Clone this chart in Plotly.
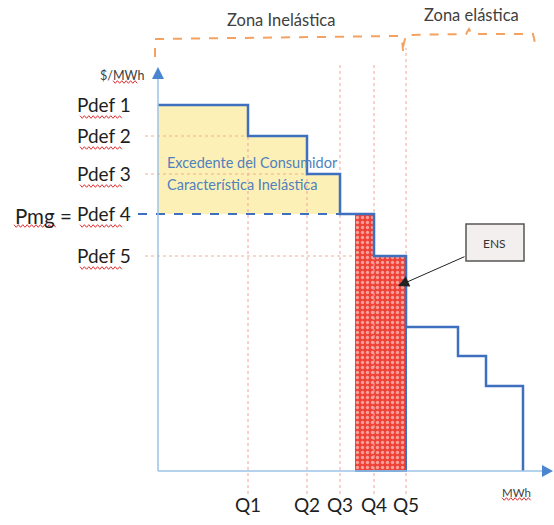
import plotly.graph_objects as go

# ---------------- data ----------------
q_edges = [0, 9.0, 14.9, 18.2, 21.6, 24.8, 30.0, 32.8, 36.5]   # step boundaries (MWh)
prices = [36.6, 33.5, 29.7, 25.7, 21.5, 14.4, 11.5, 8.5]        # step prices ($/MWh)
q_labels = ["Q1", "Q2", "Q3", "Q4", "Q5"]
q_ticks = q_edges[1:6]
price_labels = ["Pdef 1", "Pdef 2", "Pdef 3", "Pdef 4", "Pdef 5"]
price_ticks = prices[0:5]
pmg_label = "Pmg ="
q_served = 19.7                                               # start of ENS block
surplus_labels = ["Excedente del Consumidor", "Característica Inelástica"]
zone_labels = ["Zona Inelástica", "Zona elástica"]
ens_label = "ENS"
x_unit = "MWh"
y_unit = "$/MWh"

# ---------------- helpers (pixel -> data, for decorations) ----------------
W, H = 554, 525
OX, OY, S = 158, 471, 10.0


def dx(px):
    return (px - OX) / S


def dy(py):
    return (OY - py) / S


FONT = "Lato"
DARK = "#1e1e1e"
STEP_BLUE = "#3f6fbf"
AXIS_BLUE = "#9dc3e6"
HEAD_BLUE = "#4a86d0"
DOT_H = "#f4b08a"
DOT_V = "#f2a3a0"
ORANGE = "#f4a261"

fig = go.Figure()

# consumer surplus (yellow) between steps and Pmg level
ys_x = [0, 0]
ys_y = [prices[3], prices[0]]
for i in range(3):
    ys_x += [q_edges[i + 1], q_edges[i + 1]]
    ys_y += [prices[i], prices[i + 1] if i < 2 else prices[3]]
fig.add_trace(go.Scatter(x=ys_x, y=ys_y, fill="toself", fillcolor="#fcf0b6",
                         line=dict(width=0), mode="lines", hoverinfo="skip"))

# ENS block (red dotted pattern)
ens_x = [q_served, q_served, q_edges[4], q_edges[4], q_edges[5], q_edges[5]]
ens_y = [0, prices[3], prices[3], prices[4], prices[4], 0]
fig.add_trace(go.Scatter(x=ens_x, y=ens_y, fill="toself", fillcolor="#ef4136",
                         fillpattern=dict(shape=".", bgcolor="#ef4136", fgcolor="#ffffff",
                                          size=5, solidity=0.35),
                         line=dict(width=0), mode="lines", hoverinfo="skip"))

# dotted guide lines (vertical at Q, horizontal at prices)
v_tops = [prices[0], prices[1], dy(62), dy(62), dy(48)]
for q, top in zip(q_ticks, v_tops):
    fig.add_trace(go.Scatter(x=[q, q], y=[dy(494), top], mode="lines",
                             line=dict(color=DOT_V, width=1, dash="dot"), hoverinfo="skip"))
h_ends = {1: q_edges[1], 2: q_edges[2], 4: q_served}
for i, end in h_ends.items():
    fig.add_trace(go.Scatter(x=[dx(145), end], y=[prices[i], prices[i]], mode="lines",
                             line=dict(color=DOT_H, width=1, dash="dot"), hoverinfo="skip"))

# Pmg dashed level
fig.add_trace(go.Scatter(x=[dx(138), q_edges[3]], y=[prices[3], prices[3]], mode="lines",
                         line=dict(color=STEP_BLUE, width=2, dash="dash"), hoverinfo="skip"))

# demand step curve
sx = q_edges[:-1] + [q_edges[-1], q_edges[-1]]
sy = prices + [prices[-1], 0]
fig.add_trace(go.Scatter(x=sx, y=sy, mode="lines", line=dict(color=STEP_BLUE, width=2.5, shape="hv"),
                         hoverinfo="skip"))
# outline of ENS bottom / right
fig.add_trace(go.Scatter(x=[q_served, q_edges[5], q_edges[5]], y=[0, 0, prices[4]], mode="lines",
                         line=dict(color=STEP_BLUE, width=2), hoverinfo="skip"))

shapes = []
# axes with arrows
shapes.append(dict(type="line", x0=0, y0=0, x1=0, y1=dy(78), line=dict(color=AXIS_BLUE, width=1.5)))
shapes.append(dict(type="path", path=f"M {dx(152)},{dy(79)} L {dx(164)},{dy(79)} L {dx(158)},{dy(67)} Z",
                   fillcolor=HEAD_BLUE, line=dict(width=0)))
shapes.append(dict(type="line", x0=0, y0=0, x1=dx(543), y1=0, line=dict(color=AXIS_BLUE, width=1.5)))
shapes.append(dict(type="path", path=f"M {dx(542)},{dy(465)} L {dx(542)},{dy(477)} L {dx(553)},{dy(471)} Z",
                   fillcolor=HEAD_BLUE, line=dict(width=0)))


# zone braces (orange dashed)
def pth(pts):
    return "M " + " L ".join(f"{dx(a)},{dy(b)}" for a, b in pts)


shapes.append(dict(type="path", path=pth([(155, 57), (155, 39), (398, 36), (402, 38), (403, 51)]),
                   line=dict(color=ORANGE, width=2, dash="dash")))
shapes.append(dict(type="path", path=pth([(403, 47), (406, 35), (466, 34), (469, 29), (472, 34),
                                          (533, 34), (535, 43)]),
                   line=dict(color=ORANGE, width=2, dash="dash")))

# ENS box
shapes.append(dict(type="rect", x0=dx(466), x1=dx(524), y0=dy(224), y1=dy(261),
                   fillcolor="#f4efef", line=dict(color="#555555", width=1.5)))


# red wavy spell-check underlines
def wavy(x0, x1, yb):
    pts = []
    x = x0
    k = 0
    while x <= x1:
        pts.append((x, yb + (1.3 if k % 2 else -1.3)))
        x += 2.2
        k += 1
    return dict(type="path", path=pth(pts), line=dict(color="#e03030", width=1))


for p in price_ticks:
    yb = OY - p * S + 12
    shapes.append(wavy(80, 122, yb))
shapes.append(wavy(14, 56, OY - prices[3] * S + 12))
shapes.append(wavy(113, 138, 82))
shapes.append(wavy(502, 532, 499))

annotations = []
annotations.append(dict(x=dx(13), y=prices[3], text=pmg_label, showarrow=False, xanchor="left",
                        yanchor="middle", yshift=-2, font=dict(family=FONT, size=20.5, color=DARK)))
annotations.append(dict(x=dx(281), y=dy(20), text=zone_labels[0], showarrow=False,
                        font=dict(family=FONT, size=16.5, color="#404040")))
annotations.append(dict(x=dx(471), y=dy(15), text=zone_labels[1], showarrow=False,
                        font=dict(family=FONT, size=16.5, color="#404040")))
annotations.append(dict(x=dx(122), y=dy(75), text=y_unit, showarrow=False,
                        font=dict(family=FONT, size=12.5, color="#404040")))
annotations.append(dict(x=dx(516), y=dy(492), text=x_unit, showarrow=False,
                        font=dict(family=FONT, size=11.5, color="#404040")))
for txt, py in zip(surplus_labels, [162, 184]):
    annotations.append(dict(x=dx(165), y=dy(py), text=txt, showarrow=False, xanchor="left",
                            font=dict(family=FONT, size=14.5, color="#4f81bd")))
annotations.append(dict(x=dx(494), y=dy(243), text=ens_label, showarrow=False,
                        font=dict(family=FONT, size=12, color="#333333")))
annotations.append(dict(x=dx(398), y=dy(286), ax=dx(466), ay=dy(256), axref="x", ayref="y",
                        text="", showarrow=True, arrowhead=2, arrowsize=2.2, arrowwidth=1,
                        arrowcolor="#222222"))

fig.update_layout(
    width=W, height=H, margin=dict(l=0, r=0, t=0, b=0),
    paper_bgcolor="white", plot_bgcolor="white", showlegend=False,
    shapes=shapes, annotations=annotations, hovermode=False,
    xaxis=dict(range=[dx(0), dx(W)], domain=[0, 1], showgrid=False, zeroline=False, showline=False,
               tickvals=q_ticks, ticktext=q_labels, ticks="", ticklabelposition="inside",
               ticklabelstandoff=6, tickfont=dict(family=FONT, size=19, color=DARK), fixedrange=True),
    yaxis=dict(range=[dy(H), dy(0)], domain=[0, 1], showgrid=False, zeroline=False, showline=False,
               tickvals=price_ticks, ticktext=price_labels, ticks="", ticklabelposition="inside",
               ticklabelstandoff=74, tickfont=dict(family=FONT, size=19, color=DARK), fixedrange=True),
)

fig.write_html("out.html", config={"displayModeBar": False},
               post_script="document.body.style.margin='0px';document.body.style.overflow='hidden';")
